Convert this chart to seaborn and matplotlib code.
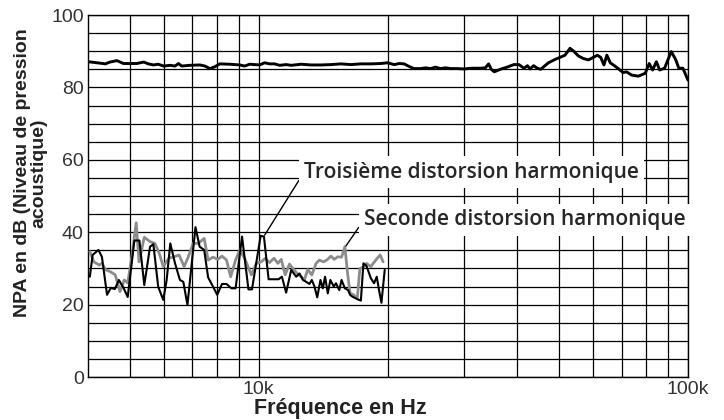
import numpy as np
import pandas as pd
import matplotlib
matplotlib.use("Agg")
import matplotlib.pyplot as plt
from matplotlib.ticker import FixedLocator, FixedFormatter, MultipleLocator, NullFormatter
import seaborn as sns

# Réponse en fréquence (NPA, dB)
freq_npa = [4000, 4200, 4390, 4500, 4670, 4840, 5200, 5390, 5530, 5680, 5830, 6000,
            6220, 6380, 6500, 6610, 6910, 7290, 7490, 7690, 7900, 8110, 8560, 9030,
            9270, 9520, 9780, 10040, 10320, 10590, 10880, 11180, 11580, 11900, 12550,
            13240, 13960, 14730, 15540, 16390, 17290, 18240, 19240, 19950, 20670,
            21240, 21800, 22390, 22970, 23820, 24470, 25130, 25800, 26510, 27230,
            27970, 28990, 30050, 31400, 32830, 33710, 34310, 34810, 35380, 36530,
            37880, 39290, 40370, 41480, 42250, 42870, 43700, 44530, 45370, 46420,
            47300, 48960, 50340, 51700, 53100, 54300, 55500, 57000, 58600, 60200,
            61500, 62600, 63700, 64700, 65900, 68100, 70600, 71900, 73900, 76600,
            79500, 81200, 82700, 84400, 85900, 88200, 91400, 93600, 95200, 97300, 100000]
npa = [87.1, 86.8, 86.5, 87.0, 87.4, 86.6, 86.6, 87.0, 86.5, 86.2, 86.4, 85.9,
       86.1, 85.9, 86.6, 85.9, 86.1, 86.2, 85.9, 85.2, 85.7, 86.5, 86.4, 86.2,
       85.9, 86.4, 86.3, 86.2, 86.8, 86.5, 86.5, 86.1, 86.3, 86.1, 86.4,
       86.2, 86.2, 86.3, 86.5, 86.3, 86.5, 86.5, 86.6, 86.8, 86.3,
       86.6, 86.5, 85.8, 85.2, 85.2, 85.4, 85.2, 85.6, 85.2, 85.4,
       85.2, 85.2, 85.1, 85.3, 85.3, 85.4, 86.5, 85.0, 84.3, 85.0,
       85.6, 86.3, 86.3, 85.3, 86.0, 85.1, 86.0, 85.3, 85.0, 86.0,
       86.8, 87.7, 88.3, 88.9, 90.8, 89.9, 88.7, 88.0, 87.6, 88.3,
       88.9, 88.3, 86.2, 88.9, 86.8, 85.6, 84.1, 84.3, 83.4, 83.1,
       83.9, 86.6, 84.8, 87.1, 84.8, 85.3, 89.9, 87.7, 85.3, 85.3, 82.0]

# Troisième distorsion harmonique
freq_h3 = [4040, 4100, 4230, 4310, 4430, 4520, 4620, 4720, 4840, 4950, 5130, 5270,
           5410, 5580, 5680, 5830, 5990, 6100, 6220, 6380, 6550, 6670, 6820, 7120,
           7280, 7460, 7620, 7820, 8000, 8210, 8410, 8630, 8830, 9140, 9460, 9640,
           10100, 10280, 10540, 10790, 11120, 11320, 11580, 11900, 12220, 12440,
           12670, 12890, 13120, 13290, 13480, 13680, 13920, 14100, 14270, 14480,
           14680, 14950, 15130, 15400, 15590, 15870, 16150, 16320, 16520, 16960,
           17290, 17530, 17820, 18240, 18560, 18830, 19060, 19310, 19650]
h3 = [27.7, 33.7, 35.1, 33.2, 22.7, 24.6, 24.3, 26.8, 24.6, 22.1, 37.7, 37.7,
      25.4, 36.0, 36.7, 24.9, 21.3, 26.8, 36.9, 31.4, 26.8, 26.3, 19.9, 41.4,
      36.0, 35.1, 27.5, 25.0, 22.7, 25.7, 25.7, 24.5, 24.5, 38.8, 24.2, 24.2,
      39.0, 38.8, 27.0, 27.0, 27.0, 27.7, 23.3, 29.6, 27.7, 28.6,
      26.8, 26.3, 25.7, 26.8, 25.0, 22.0, 26.8, 24.5, 27.7, 23.1,
      26.8, 25.0, 25.9, 24.0, 26.8, 24.5, 24.0, 22.7, 22.2, 21.5,
      21.1, 31.4, 30.7, 27.3, 25.9, 27.7, 24.0, 20.5, 29.6]

# Seconde distorsion harmonique
freq_h2 = [4040, 4130, 4250, 4310, 4400, 4510, 4630, 4750, 4860, 4950, 5060, 5180,
           5260, 5410, 5580, 5730, 5860, 5990, 6170, 6340, 6520, 6700, 6850, 7030,
           7230, 7460, 7620, 7820, 8030, 8210, 8410, 8600, 8830, 9030, 9270, 9610,
           9870, 10130, 10350, 10590, 10850, 11080, 11280, 11520, 11790, 12000,
           12280, 12550, 12770, 13000, 13290, 13600, 13840, 14160, 14470, 14730,
           14990, 15260, 15590, 15870, 16100, 16320, 16630, 16960, 17200, 17530,
           17820, 18240, 18730, 19170, 19490]
h2 = [34.6, 31.8, 30.9, 31.4, 29.6, 29.1, 28.2, 23.6, 26.8, 26.0, 33.2, 42.6,
      31.8, 38.6, 37.4, 36.9, 34.2, 30.5, 32.8, 33.2, 33.7, 30.5, 33.2, 36.9,
      36.9, 38.3, 32.3, 33.1, 32.5, 33.4, 32.3, 27.7, 32.3, 35.1, 32.8, 28.2,
      31.4, 31.8, 32.8, 31.6, 32.8, 31.4, 32.5, 28.2, 31.2, 30.0,
      28.6, 27.7, 26.8, 29.7, 28.2, 31.4, 32.3, 31.8, 32.5, 33.4,
      32.5, 33.2, 33.1, 36.0, 28.6, 23.1, 22.7, 21.7, 30.0, 30.3,
      31.4, 30.5, 32.3, 33.7, 31.8]

y_ticks = [0, 20, 40, 60, 80, 100]
x_major = [10000, 100000]
x_labels = ["10k", "100k"]

sns.set_style("white")
plt.rcParams["font.family"] = ["Liberation Sans", "DejaVu Sans"]

fig = plt.figure(figsize=(7.24, 4.2), dpi=100)
ax = fig.add_axes([88 / 724, 43 / 420, 600 / 724, 362 / 420])

df_npa = pd.DataFrame({"freq": freq_npa, "db": npa})
df_h2 = pd.DataFrame({"freq": freq_h2, "db": h2})
df_h3 = pd.DataFrame({"freq": freq_h3, "db": h3})

sns.lineplot(data=df_h2, x="freq", y="db", ax=ax, color="#8c8c8c", lw=2.0, zorder=3)
sns.lineplot(data=df_h3, x="freq", y="db", ax=ax, color="black", lw=1.5, zorder=4)
sns.lineplot(data=df_npa, x="freq", y="db", ax=ax, color="black", lw=2.1, zorder=4)

ax.set_xscale("log")
ax.set_xlim(4000, 100000)
ax.set_ylim(0, 100)

ax.xaxis.set_major_locator(FixedLocator(x_major))
ax.xaxis.set_major_formatter(FixedFormatter(x_labels))
ax.xaxis.set_minor_locator(FixedLocator([5000, 6000, 7000, 8000, 9000, 20000, 30000,
                                         40000, 50000, 60000, 70000, 80000, 90000]))
ax.xaxis.set_minor_formatter(NullFormatter())
ax.yaxis.set_major_locator(FixedLocator(y_ticks))
ax.yaxis.set_minor_locator(MultipleLocator(5))

ax.grid(which="both", color="black", lw=0.9)
ax.tick_params(which="both", length=0, labelsize=14, labelcolor="#333333")
ax.tick_params(axis="y", pad=3)
ax.tick_params(axis="x", pad=3)
for s in ax.spines.values():
    s.set_color("black")
    s.set_linewidth(1.0)

ax.set_xlabel("Fréquence en Hz", fontsize=15.5, fontweight="bold", color="#222222")
ax.xaxis.set_label_coords((340 - 88) / 600, -0.058)
ax.set_ylabel("NPA en dB (Niveau de pression\nacoustique)", fontsize=14,
              fontweight="bold", color="#222222", linespacing=0.9)
ax.yaxis.set_label_coords(-0.068, 0.564)

bbox = dict(boxstyle="square,pad=0.25", fc="white", ec="none")
ax.annotate("Troisième distorsion harmonique", xy=(10320, 39.2), xytext=(12750, 56.6),
            fontsize=15, fontweight="semibold", family=["Open Sans", "DejaVu Sans"],
            va="center", ha="left", bbox=bbox, zorder=6, annotation_clip=False,
            arrowprops=dict(arrowstyle="-", color="black", lw=1.0, relpos=(0, 0.5),
                            shrinkA=0, shrinkB=0))
ax.annotate("Seconde distorsion harmonique", xy=(15960, 36.2), xytext=(17570, 43.4),
            fontsize=15, fontweight="semibold", family=["Open Sans", "DejaVu Sans"],
            va="center", ha="left", bbox=bbox, zorder=6, annotation_clip=False,
            arrowprops=dict(arrowstyle="-", color="black", lw=1.0, relpos=(0, 0.5),
                            shrinkA=0, shrinkB=0))

fig.savefig("out.png", dpi=100)
